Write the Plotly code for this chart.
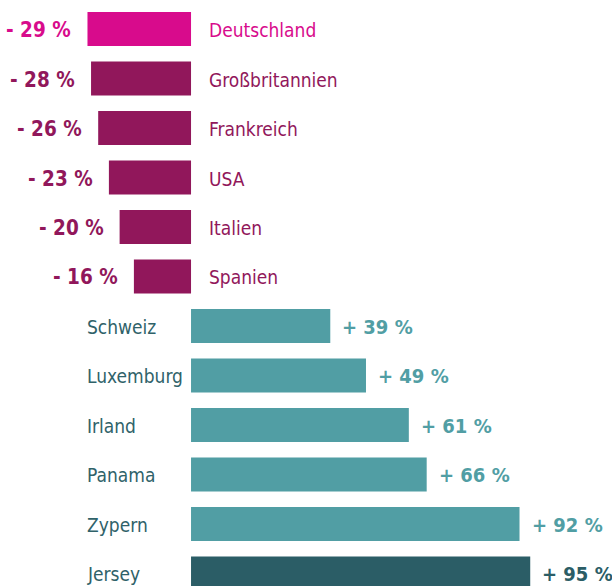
import plotly.graph_objects as go

countries = ["Deutschland", "Großbritannien", "Frankreich", "USA", "Italien", "Spanien",
             "Schweiz", "Luxemburg", "Irland", "Panama", "Zypern", "Jersey"]
values = [-29, -28, -26, -23, -20, -16, 39, 49, 61, 66, 92, 95]
value_labels = ["- 29 %", "- 28 %", "- 26 %", "- 23 %", "- 20 %", "- 16 %",
                "+ 39 %", "+ 49 %", "+ 61 %", "+ 66 %", "+ 92 %", "+ 95 %"]
bar_colors = ["#D80B8C"] + ["#91175B"] * 5 + ["#519EA4"] * 5 + ["#2B5D66"]
name_colors = ["#D80B8C"] + ["#91175B"] * 5 + ["#2F6269"] * 6
label_colors = ["#D80B8C"] + ["#91175B"] * 5 + ["#519EA4"] * 5 + ["#2B5D66"]

idx = list(range(len(countries)))

fig = go.Figure(go.Bar(
    x=values, y=idx, orientation="h",
    marker=dict(color=bar_colors, line=dict(width=0)),
    hoverinfo="skip",
))

font_name = "DejaVu Sans Condensed, Roboto Condensed, Liberation Sans Narrow, Roboto, sans-serif"
ann = []
for i, (c, v, lab) in enumerate(zip(countries, values, value_labels)):
    if v < 0:
        ann.append(dict(x=v, y=i, xref="x", yref="y", text=lab, showarrow=False,
                        xanchor="right", xshift=-14, yshift=-1,
                        font=dict(family=font_name, size=20.5, color=label_colors[i], weight="bold")))
        ann.append(dict(x=0, y=i, xref="x", yref="y", text=c, showarrow=False,
                        xanchor="left", xshift=16, yshift=-1,
                        font=dict(family=font_name, size=19, color=name_colors[i])))
    else:
        ann.append(dict(x=v, y=i, xref="x", yref="y", text=lab, showarrow=False,
                        xanchor="left", xshift=10, yshift=-1,
                        font=dict(family=font_name, size=20, color=label_colors[i], weight="bold")))
        ann.append(dict(x=0, y=i, xref="x", yref="y", text=c, showarrow=False,
                        xanchor="left", xshift=-106, yshift=-1,
                        font=dict(family=font_name, size=19, color=name_colors[i])))

fig.update_layout(
    width=612, height=586,
    margin=dict(l=0, r=0, t=0, b=0),
    paper_bgcolor="white", plot_bgcolor="white",
    showlegend=False,
    bargap=0.31,
    xaxis=dict(range=[-53.5, 117.9], visible=False, fixedrange=True),
    yaxis=dict(range=[11.253, -0.586], visible=False, fixedrange=True),
    annotations=ann,
)

fig.write_html("out.html", config={"displayModeBar": False},
               post_script="document.body.style.margin='0';document.body.style.overflow='hidden';")
